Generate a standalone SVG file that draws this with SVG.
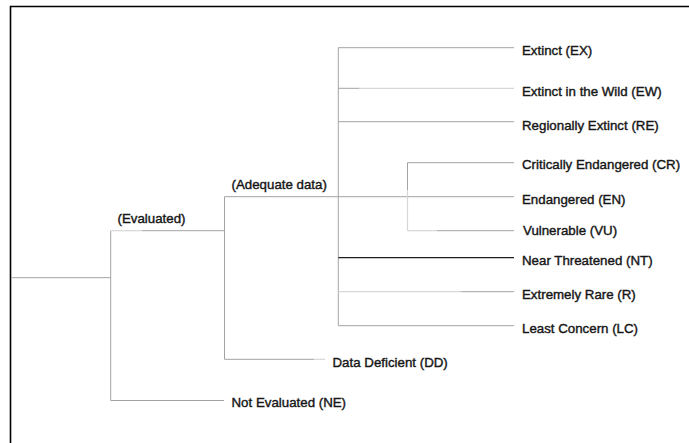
<svg xmlns="http://www.w3.org/2000/svg" width="689" height="443" viewBox="0 0 689 443">
  <style>
    .lbl { font-family: "Liberation Sans", Arial, sans-serif; font-size: 13.3px; fill: #161616; stroke: #161616; stroke-width: 0.4; }
    .ln { stroke: #a3a3a3; stroke-width: 1; fill: none; }
    .lt { stroke: #d6d6d6; stroke-width: 1.2; fill: none; }
    .dk { stroke: #1e1e1e; stroke-width: 1.2; fill: none; }
    .frame { stroke: #000; stroke-width: 1.6; fill: none; }
  </style>
  <rect width="689" height="443" fill="#fff"/>
  <path class="frame" d="M10.5,443 V6.5 H689"/>

  <g id="connectors">
    <!-- root -->
    <path class="ln" d="M11,277.7 H110.7"/>
    <path class="ln" d="M110.7,230.7 V400.5"/>
    <!-- evaluated -->
    <path class="lt" d="M110.7,230.7 H142"/>
    <path class="ln" d="M142,230.7 H224.5"/>
    <!-- not evaluated -->
    <path class="ln" d="M110.7,400.5 H224"/>
    <!-- adequate data -->
    <path class="ln" d="M224.5,196.7 V359.3"/>
    <path class="ln" d="M224.5,196.7 H514"/>
    <!-- data deficient -->
    <path class="ln" d="M224.5,359.3 H314"/>
    <path class="lt" d="M314,359.3 H325"/>
    <!-- main spine -->
    <path class="ln" d="M338.3,47.7 V325.7"/>
    <path class="ln" d="M338.3,47.7 H514"/>
    <path class="ln" d="M338.3,88.3 H359"/>
    <path class="lt" d="M359,88.3 H514"/>
    <path class="ln" d="M338.3,121.7 H514"/>
    <path class="dk" d="M338.3,257.7 H514"/>
    <path class="lt" d="M338.3,291.7 H461"/>
    <path class="ln" d="M461,291.7 H514"/>
    <path class="ln" d="M338.3,325.7 H514"/>
    <!-- threatened bracket -->
    <path class="ln" d="M407.5,162.7 V190"/>
    <path class="lt" d="M407.5,190 V230.7"/>
    <path class="ln" d="M407.5,162.7 H514"/>
    <path class="lt" d="M407.5,230.7 H437"/>
    <path class="ln" d="M437,230.7 H514"/>
  </g>

  <g id="evaluated"><text class="lbl" x="117.5" y="223.3">(Evaluated)</text></g>
  <g id="adequate"><text class="lbl" x="231.5" y="189">(Adequate data)</text></g>
  <g id="ne"><text class="lbl" x="231.5" y="407">Not Evaluated (NE)</text></g>
  <g id="dd"><text class="lbl" x="332.5" y="367">Data Deficient (DD)</text></g>
  <g id="ex"><text class="lbl" x="522" y="54.5">Extinct (EX)</text></g>
  <g id="ew"><text class="lbl" x="522" y="95.5">Extinct in the Wild (EW)</text></g>
  <g id="re"><text class="lbl" x="522" y="129.5">Regionally Extinct (RE)</text></g>
  <g id="cr"><text class="lbl" x="522" y="169.3">Critically Endangered (CR)</text></g>
  <g id="en"><text class="lbl" x="522" y="203.7">Endangered (EN)</text></g>
  <g id="vu"><text class="lbl" x="523" y="234.7">Vulnerable (VU)</text></g>
  <g id="nt"><text class="lbl" x="522" y="264.7">Near Threatened (NT)</text></g>
  <g id="r"><text class="lbl" x="522" y="299">Extremely Rare (R)</text></g>
  <g id="lc"><text class="lbl" x="522" y="333">Least Concern (LC)</text></g>
</svg>
